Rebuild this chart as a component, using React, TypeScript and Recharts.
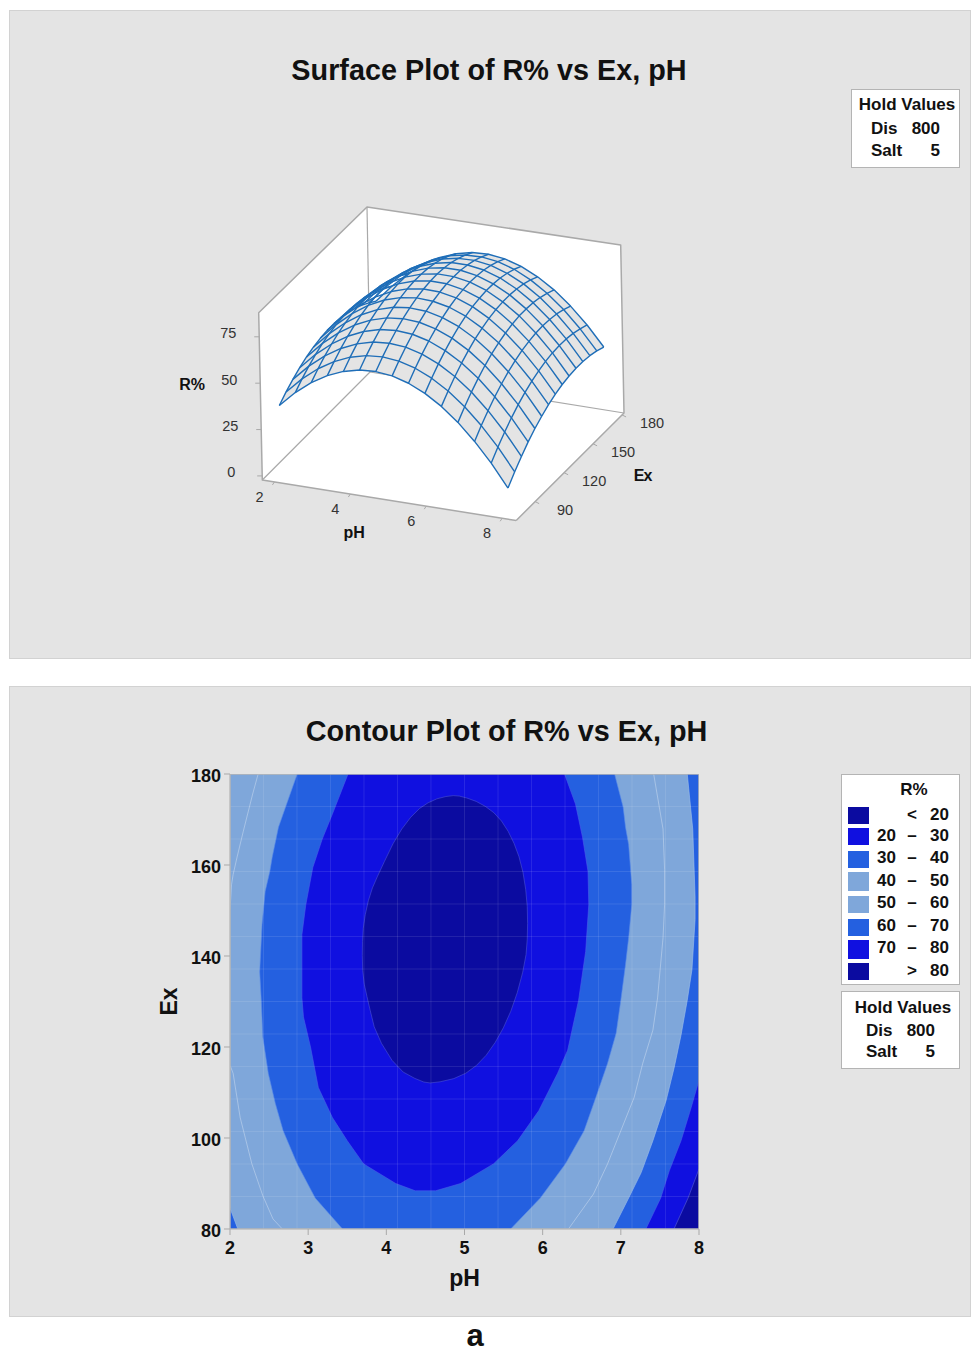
import React from 'react';
import { ScatterChart, Scatter, XAxis, YAxis } from 'recharts';

// ---------- data ----------
const holdValues = [['Dis', '800'], ['Salt', '5']];
const legendRows = [
  ['', '<', '20'], ['20', '–', '30'], ['30', '–', '40'], ['40', '–', '50'],
  ['50', '–', '60'], ['60', '–', '70'], ['70', '–', '80'], ['', '>', '80'],
];
const pHTicks = [2, 3, 4, 5, 6, 7, 8];
const exContourTicks = [80, 100, 120, 140, 160, 180];
const surfacePHTicks = [2, 4, 6, 8];
const surfaceExTicks = [90, 120, 150, 180];
const surfaceRTicks = [0, 25, 50, 75];

const meshPH = [2, 2.429, 2.857, 3.286, 3.714, 4.143, 4.571, 5, 5.429, 5.857, 6.286, 6.714, 7.143, 7.571, 8];
const meshEx = [80, 87.14, 94.29, 101.43, 108.57, 115.71, 122.86, 130, 137.14, 144.29, 151.43, 158.57, 165.71, 172.86, 180];
// R% per Ex row (meshEx), per pH column (meshPH)
const surfaceR = [
  [38.6, 46.9, 53.6, 58.7, 62.3, 64.4, 64.9, 63.9, 61.3, 57.2, 51.6, 44.4, 35.6, 25.4, 13.5],
  [42.2, 50.6, 57.4, 62.6, 66.3, 68.5, 69.1, 68.2, 65.7, 61.7, 56.2, 49.1, 40.4, 30.3, 18.5],
  [45.3, 53.8, 60.7, 66.0, 69.8, 72.1, 72.8, 72.0, 69.6, 65.7, 60.3, 53.3, 44.7, 34.7, 23.0],
  [47.9, 56.5, 63.4, 68.9, 72.8, 75.2, 76.0, 75.3, 73.0, 69.2, 63.9, 57.0, 48.5, 38.6, 27.1],
  [50.0, 58.7, 65.7, 71.3, 75.3, 77.8, 78.7, 78.1, 75.9, 72.2, 67.0, 60.2, 51.8, 42.0, 30.6],
  [51.6, 60.3, 67.5, 73.2, 77.3, 79.9, 80.9, 80.4, 78.3, 74.7, 69.6, 62.9, 54.6, 44.9, 33.5],
  [52.7, 61.5, 68.8, 74.6, 78.8, 81.4, 82.6, 82.1, 80.2, 76.7, 71.6, 65.1, 56.9, 47.3, 36.0],
  [53.3, 62.2, 69.6, 75.4, 79.7, 82.5, 83.7, 83.4, 81.6, 78.2, 73.2, 66.7, 58.7, 49.1, 38.0],
  [53.3, 62.4, 69.8, 75.8, 80.2, 83.1, 84.4, 84.2, 82.4, 79.1, 74.3, 67.9, 59.9, 50.5, 39.5],
  [52.9, 62.0, 69.6, 75.7, 80.2, 83.1, 84.6, 84.4, 82.8, 79.6, 74.8, 68.6, 60.7, 51.4, 40.4],
  [51.9, 61.2, 68.9, 75.0, 79.6, 82.7, 84.2, 84.2, 82.6, 79.5, 74.9, 68.7, 61.0, 51.7, 40.9],
  [50.5, 59.8, 67.6, 73.9, 78.6, 81.7, 83.4, 83.4, 82.0, 79.0, 74.4, 68.4, 60.7, 51.6, 40.8],
  [48.5, 57.9, 65.8, 72.2, 77.0, 80.3, 82.0, 82.2, 80.8, 77.9, 73.5, 67.5, 60.0, 50.9, 40.3],
  [46.0, 55.6, 63.6, 70.0, 74.9, 78.3, 80.1, 80.4, 79.2, 76.4, 72.0, 66.1, 58.7, 49.7, 39.2],
  [43.1, 52.7, 60.8, 67.4, 72.4, 75.8, 77.8, 78.2, 77.0, 74.3, 70.0, 64.3, 56.9, 48.1, 37.6],
];

// contour level boundaries as [pH, Ex]
const level40 = [[2, 180], [2, 84.6], [2.1, 80], [6.9, 80], [7.1, 86.8], [7.26, 92.4], [7.41, 99.4], [7.58, 108.3], [7.68, 115.3], [7.77, 122.6], [7.85, 130.3], [7.91, 137], [7.95, 148], [7.95, 153], [7.92, 167.9], [7.85, 180]];
const level50 = [[2.36, 180], [2.29, 175.6], [2.17, 167.4], [2.09, 161.7], [2.04, 157.9], [2.02, 155.7], [2, 150], [2, 116], [2.04, 114.2], [2.13, 104.5], [2.28, 94.3], [2.42, 87.3], [2.55, 82.2], [2.67, 80], [6.33, 80], [6.65, 87.7], [6.83, 94.3], [7, 101.6], [7.17, 108.9], [7.28, 116.4], [7.41, 123.7], [7.47, 130.8], [7.54, 144], [7.56, 151.3], [7.56, 159], [7.54, 167.9], [7.42, 180]];
const level60 = [[2.86, 180], [2.71, 172.7], [2.62, 168.3], [2.54, 161.7], [2.51, 158.6], [2.45, 154.2], [2.41, 146.9], [2.38, 136.5], [2.4, 130.3], [2.42, 122.2], [2.49, 114.2], [2.58, 107.6], [2.68, 101.6], [2.86, 94.3], [3.09, 86.8], [3.44, 80], [5.59, 80], [5.97, 86.8], [6.29, 94.3], [6.53, 101.6], [6.68, 108.9], [6.83, 116.4], [6.94, 123], [7, 130.3], [7.06, 138.1], [7.1, 144], [7.14, 151.3], [7.14, 155.7], [7.1, 164.5], [7.06, 168.3], [7.03, 172.7], [6.92, 180]];
const level70 = [[3.51, 180], [3.31, 171.2], [3.18, 165.7], [3.06, 159.5], [2.97, 151.3], [2.92, 144.7], [2.92, 130.8], [2.94, 126.6], [3.03, 120], [3.13, 111.1], [3.31, 104.5], [3.5, 99.4], [3.71, 94.3], [4.12, 90], [4.37, 88.4], [4.63, 88.4], [4.95, 90], [5.37, 94.3], [5.68, 99.4], [5.95, 106], [6.19, 114.2], [6.32, 119.3], [6.46, 130.3], [6.55, 141], [6.59, 151.3], [6.58, 158.6], [6.51, 166.1], [6.42, 173.4], [6.28, 180]];
const level80 = [[4.82, 175.3], [4.59, 174.3], [4.37, 171.8], [4.14, 166.6], [3.92, 158.8], [3.79, 153.7], [3.71, 147.5], [3.69, 141.8], [3.7, 135.2], [3.77, 129.7], [3.87, 122.7], [4.14, 115.2], [4.44, 112.4], [4.6, 112], [4.95, 113.4], [5.22, 116.8], [5.45, 122.4], [5.64, 129.7], [5.78, 138.7], [5.81, 145.3], [5.8, 152.8], [5.73, 160.3], [5.6, 166.3], [5.43, 170.8], [5.21, 173.6], [4.97, 175.1]];
const level30Corner = [[7.32, 80], [7.51, 86.8], [7.62, 92.8], [7.77, 99.4], [7.9, 106.7], [8, 112.7], [8, 80]];
const level20Corner = [[7.68, 80], [7.86, 86.8], [8, 93.2], [8, 80]];

// ---------- styling ----------
const FONT = '"Liberation Sans", Arial, Helvetica, sans-serif';
const PANEL = '#e4e4e4';
const DARK = '#0b0ba0';
const BRIGHT = '#1010e0';
const MID = '#2460e0';
const LIGHT = '#7fa7da';
const legendColors = [DARK, BRIGHT, MID, LIGHT, LIGHT, MID, BRIGHT, DARK];
const swatchBoxes = [[807, 17], [828, 17], [851, 17], [872, 19], [896, 17], [919, 17], [940, 19], [963, 17]];
const rowCenters = [814, 835, 857, 880, 902, 925, 947, 970];
const BOX = '#a9a9a9';
const MESH = '#1f6eb8';

// ---------- projection of the 3-D box on the plane of the page ----------
const range = { pH: [1.68, 8.37], ex: [70.4, 182], r: [-2.2, 88] };
const floorC = [[262.3, 480], [516.2, 520.5], [624, 413], [370, 372]];
const topC = [[258.7, 312.7], [512.4, 350.7], [620.7, 245], [367, 207]];
const bil = (c: number[][], u: number, v: number, k: number) =>
  (1 - u) * (1 - v) * c[0][k] + u * (1 - v) * c[1][k] + u * v * c[2][k] + (1 - u) * v * c[3][k];
const project = (pH: number, ex: number, r: number) => {
  const u = (pH - range.pH[0]) / (range.pH[1] - range.pH[0]);
  const v = (ex - range.ex[0]) / (range.ex[1] - range.ex[0]);
  const w = (r - range.r[0]) / (range.r[1] - range.r[0]);
  return {
    x: bil(floorC, u, v, 0) * (1 - w) + bil(topC, u, v, 0) * w,
    y: bil(floorC, u, v, 1) * (1 - w) + bil(topC, u, v, 1) * w,
  };
};
// the drawn surface sits a little lower and nearer than its nominal box position
const projectMesh = (pH: number, ex: number, r: number) => project(pH, ex - 3, r - 3);
const P = {
  a: project(range.pH[0], range.ex[0], range.r[0]),
  b: project(range.pH[1], range.ex[0], range.r[0]),
  c: project(range.pH[1], range.ex[1], range.r[0]),
  d: project(range.pH[0], range.ex[1], range.r[0]),
  A: project(range.pH[0], range.ex[0], range.r[1]),
  C: project(range.pH[1], range.ex[1], range.r[1]),
  D: project(range.pH[0], range.ex[1], range.r[1]),
};

const none = () => null;
const closed = (pts: number[][]) => [...pts, pts[0]].map(([x, y]) => ({ x, y }));
// one pass of corner cutting, so a closed boundary reads as a smooth curve
const rounded = (pts: number[][]) =>
  pts.flatMap((p, i) => {
    const q = pts[(i + 1) % pts.length];
    return [
      [p[0] * 0.75 + q[0] * 0.25, p[1] * 0.75 + q[1] * 0.25],
      [p[0] * 0.25 + q[0] * 0.75, p[1] * 0.25 + q[1] * 0.75],
    ];
  });

const Poly = (pts: any[], fill: string, stroke: string, strokeWidth = 1, key = '', opacity = 1) => (
  <Scatter
    key={key}
    data={pts}
    isAnimationActive={false}
    shape={none}
    line={{ fill, stroke, strokeWidth, strokeOpacity: opacity, strokeLinejoin: 'round' }}
    lineType="joint"
    legendType="none"
  />
);
const Path = (pts: any[], stroke: string, w: number, key: string, opacity = 1) => Poly(pts, 'none', stroke, w, key, opacity);

const TextMarks = (items: any[], key: string, style: any) => (
  <Scatter
    key={key}
    data={items}
    isAnimationActive={false}
    legendType="none"
    shape={(p: any) => (
      <text x={p.cx} y={p.cy} textAnchor="middle" dominantBaseline="central" style={{ fontFamily: FONT, ...style }}>
        {p.payload.label}
      </text>
    )}
  />
);

// mesh in plane coordinates
const meshRowLine = (j: number) => meshPH.map((ph, i) => projectMesh(ph, meshEx[j], surfaceR[j][i]));
const meshColLine = (i: number) => meshEx.map((ex, j) => projectMesh(meshPH[i], ex, surfaceR[j][i]));
const outline = [
  ...meshRowLine(0),
  ...meshColLine(meshPH.length - 1),
  ...meshRowLine(meshEx.length - 1).reverse(),
  ...meshColLine(0).reverse(),
];

const tick = (o: any, dx: number, dy: number) => [o, { x: o.x + dx, y: o.y + dy }];
const lab = (o: any, dx: number, dy: number, label: any) => ({ x: o.x + dx, y: o.y + dy, label });

const SurfaceChart = () => (
  <ScatterChart width={971} height={660} margin={{ top: 0, right: 0, bottom: 0, left: 0 }} style={{ position: 'absolute', left: 0, top: 0 }}>
    <XAxis type="number" dataKey="x" domain={[0, 971]} hide allowDataOverflow />
    <YAxis type="number" dataKey="y" domain={[0, 660]} reversed hide allowDataOverflow />
    {Poly([P.a, P.A, P.D, P.C, P.c, P.b, P.a], '#ffffff', 'none', 0, 'white')}
    {Path([P.b, P.a, P.A, P.D, P.C, P.c, P.b], BOX, 1.5, 'box1')}
    {Path([P.a, P.d, P.c], BOX, 1.2, 'box2')}
    {Path([P.d, P.D], BOX, 1.2, 'box3')}
    {surfacePHTicks.map((v) => Path(tick(project(v, range.ex[0], range.r[0]), -2, 3), BOX, 1, `tp${v}`))}
    {surfaceExTicks.map((v) => Path(tick(project(range.pH[1], v, range.r[0]), 4, 2), BOX, 1, `te${v}`))}
    {surfaceRTicks.map((v) => Path(tick(project(range.pH[0], range.ex[0], v), -5, 0), BOX, 1, `tr${v}`))}
    {Poly(outline, PANEL, 'none', 0, 'surf')}
    {meshEx.map((_, j) => Path(meshRowLine(j), MESH, 1.4, `row${j}`))}
    {meshPH.map((_, i) => Path(meshColLine(i), MESH, 1.4, `col${i}`))}
    {TextMarks(surfacePHTicks.map((v) => lab(project(v, range.ex[0], range.r[0]), -15, 15, v)), 'lp', { fontSize: 14.5, fill: '#333' })}
    {TextMarks(surfaceExTicks.map((v) => lab(project(range.pH[1], v, range.r[0]), 30, 8, v)), 'le', { fontSize: 14.5, fill: '#333' })}
    {TextMarks(surfaceRTicks.map((v) => lab(project(range.pH[0], range.ex[0], v), -31, -3.5, v)), 'lr', { fontSize: 14.5, fill: '#333' })}
    {TextMarks([lab(project(4.6, range.ex[0], range.r[0]), -19, 35, 'pH')], 'tp', { fontSize: 16, fontWeight: 700, fill: '#111' })}
    {TextMarks([lab(project(range.pH[1], 135, range.r[0]), 64, 17, 'Ex')], 'te', { fontSize: 16, fontWeight: 700, fill: '#111', letterSpacing: -1 })}
    {TextMarks([lab(project(range.pH[0], range.ex[0], 50), -68, 1, 'R%')], 'tr', { fontSize: 16, fontWeight: 700, fill: '#111' })}
  </ScatterChart>
);

const gridPH = meshPH.slice(1, -1);
const gridEx = meshEx.slice(1, -1);
const axisTick = { fontFamily: FONT, fontSize: 18, fontWeight: 700, fill: '#111' };
const axisTitle = { fontFamily: FONT, fontSize: 23, fontWeight: 700, fill: '#111' };

const ContourChart = () => (
  <ScatterChart width={971} height={660} margin={{ top: 94, right: 272, bottom: 71, left: 170 }} style={{ position: 'absolute', left: 0, top: 680 }}>
    <XAxis
      type="number" dataKey="x" domain={[2, 8]} ticks={pHTicks} allowDataOverflow height={40} interval={0}
      tick={axisTick} tickLine={{ stroke: BOX }} axisLine={{ stroke: BOX }} tickMargin={6}
      label={{ value: 'pH', position: 'insideBottom', offset: -17, style: axisTitle }}
    />
    <YAxis
      type="number" dataKey="y" domain={[80, 180]} ticks={exContourTicks} allowDataOverflow width={60} interval={0}
      tick={{ ...axisTick, dy: 1.5 }} tickLine={{ stroke: BOX }} axisLine={{ stroke: BOX }} tickMargin={3}
      label={{ value: 'Ex', angle: -90, position: 'insideLeft', offset: -1, style: { ...axisTitle, textAnchor: 'middle' } }}
    />
    {Poly(closed([[2, 80], [8, 80], [8, 180], [2, 180]]), MID, 'none', 0, 'base')}
    {Poly(closed(level40), LIGHT, '#9fc0ea', 0.6, 'l40')}
    {Poly(closed(level50), LIGHT, '#ffffff', 0.8, 'l50', 0.4)}
    {Poly(closed(level60), MID, '#5b8be8', 0.6, 'l60')}
    {Poly(closed(level70), BRIGHT, '#4a5cea', 0.6, 'l70')}
    {Poly(closed(rounded(level80)), DARK, '#5a62d8', 0.6, 'l80', 0.8)}
    {Poly(closed(level30Corner), BRIGHT, '#4a5cea', 0.6, 'c30')}
    {Poly(closed(level20Corner), DARK, '#5a62d8', 0.6, 'c20')}
    {gridPH.map((v) => Path([{ x: v, y: 80 }, { x: v, y: 180 }], '#ffffff', 1, `gx${v}`, 0.1))}
    {gridEx.map((v) => Path([{ x: 2, y: v }, { x: 8, y: v }], '#ffffff', 1, `gy${v}`, 0.1))}
    {Path(closed([[2, 80], [8, 80], [8, 180], [2, 180]]), '#b4b4b4', 1.5, 'frame')}
  </ScatterChart>
);

const T = ({ x, y, children, align = 'center', size = 17, weight = 700, lh = 1 }: any) => {
  const tr = align === 'center' ? 'translate(-50%,-50%)' : align === 'right' ? 'translate(-100%,-50%)' : 'translate(0,-50%)';
  return (
    <div style={{ position: 'absolute', left: x, top: y, transform: tr, fontFamily: FONT, fontSize: size, fontWeight: weight, color: '#111', whiteSpace: 'nowrap', lineHeight: lh }}>
      {children}
    </div>
  );
};
const Rect = ({ x, y, w, h, bg, border }: any) => (
  <div style={{ position: 'absolute', left: x, top: y, width: w, height: h, background: bg, border: border ? `1.5px solid ${border}` : 'none', boxSizing: 'border-box' }} />
);

const Hold = ({ left, top, w, h, cx, startX, rightX, ys }: any) => (
  <>
    <Rect x={left} y={top} w={w} h={h} bg="#fff" border="#b4b4b4" />
    <T x={cx} y={ys[0]}>Hold Values</T>
    {holdValues.map((r, i) => (
      <React.Fragment key={r[0]}>
        <T x={startX} y={ys[i + 1]} align="left">{r[0]}</T>
        <T x={rightX} y={ys[i + 1]} align="right">{r[1]}</T>
      </React.Fragment>
    ))}
  </>
);

export default function App() {
  return (
    <div style={{ position: 'absolute', left: 0, top: 0, width: 971, height: 1351, background: '#fff', overflow: 'hidden' }}>
      <Rect x={9} y={10} w={962} h={649} bg={PANEL} border="#d2d2d2" />
      <Rect x={9} y={686} w={962} h={631} bg={PANEL} border="#d2d2d2" />
      <SurfaceChart />
      <ContourChart />
      <T x={489} y={69.5} size={28.8}>Surface Plot of R% vs Ex, pH</T>
      <T x={506.5} y={730.5} size={28.8}>Contour Plot of R% vs Ex, pH</T>
      <Hold left={851} top={89} w={109} h={79} cx={907} startX={871} rightX={940} ys={[104, 128, 150]} />
      <Rect x={841} y={774} w={119} h={211} bg="#fff" border="#b4b4b4" />
      <T x={914} y={789}>R%</T>
      {legendRows.map((r, i) => (
        <React.Fragment key={i}>
          <Rect x={848} y={swatchBoxes[i][0]} w={21} h={swatchBoxes[i][1]} bg={legendColors[i]} />
          {r[0] && <T x={896} y={rowCenters[i]} align="right">{r[0]}</T>}
          <T x={912} y={rowCenters[i]}>{r[1]}</T>
          <T x={949} y={rowCenters[i]} align="right">{r[2]}</T>
        </React.Fragment>
      ))}
      <Hold left={841} top={991} w={119} h={78} cx={903} startX={866} rightX={935} ys={[1007, 1030, 1051]} />
      <T x={475} y={1336} size={31} lh={0.75}>a</T>
    </div>
  );
}
